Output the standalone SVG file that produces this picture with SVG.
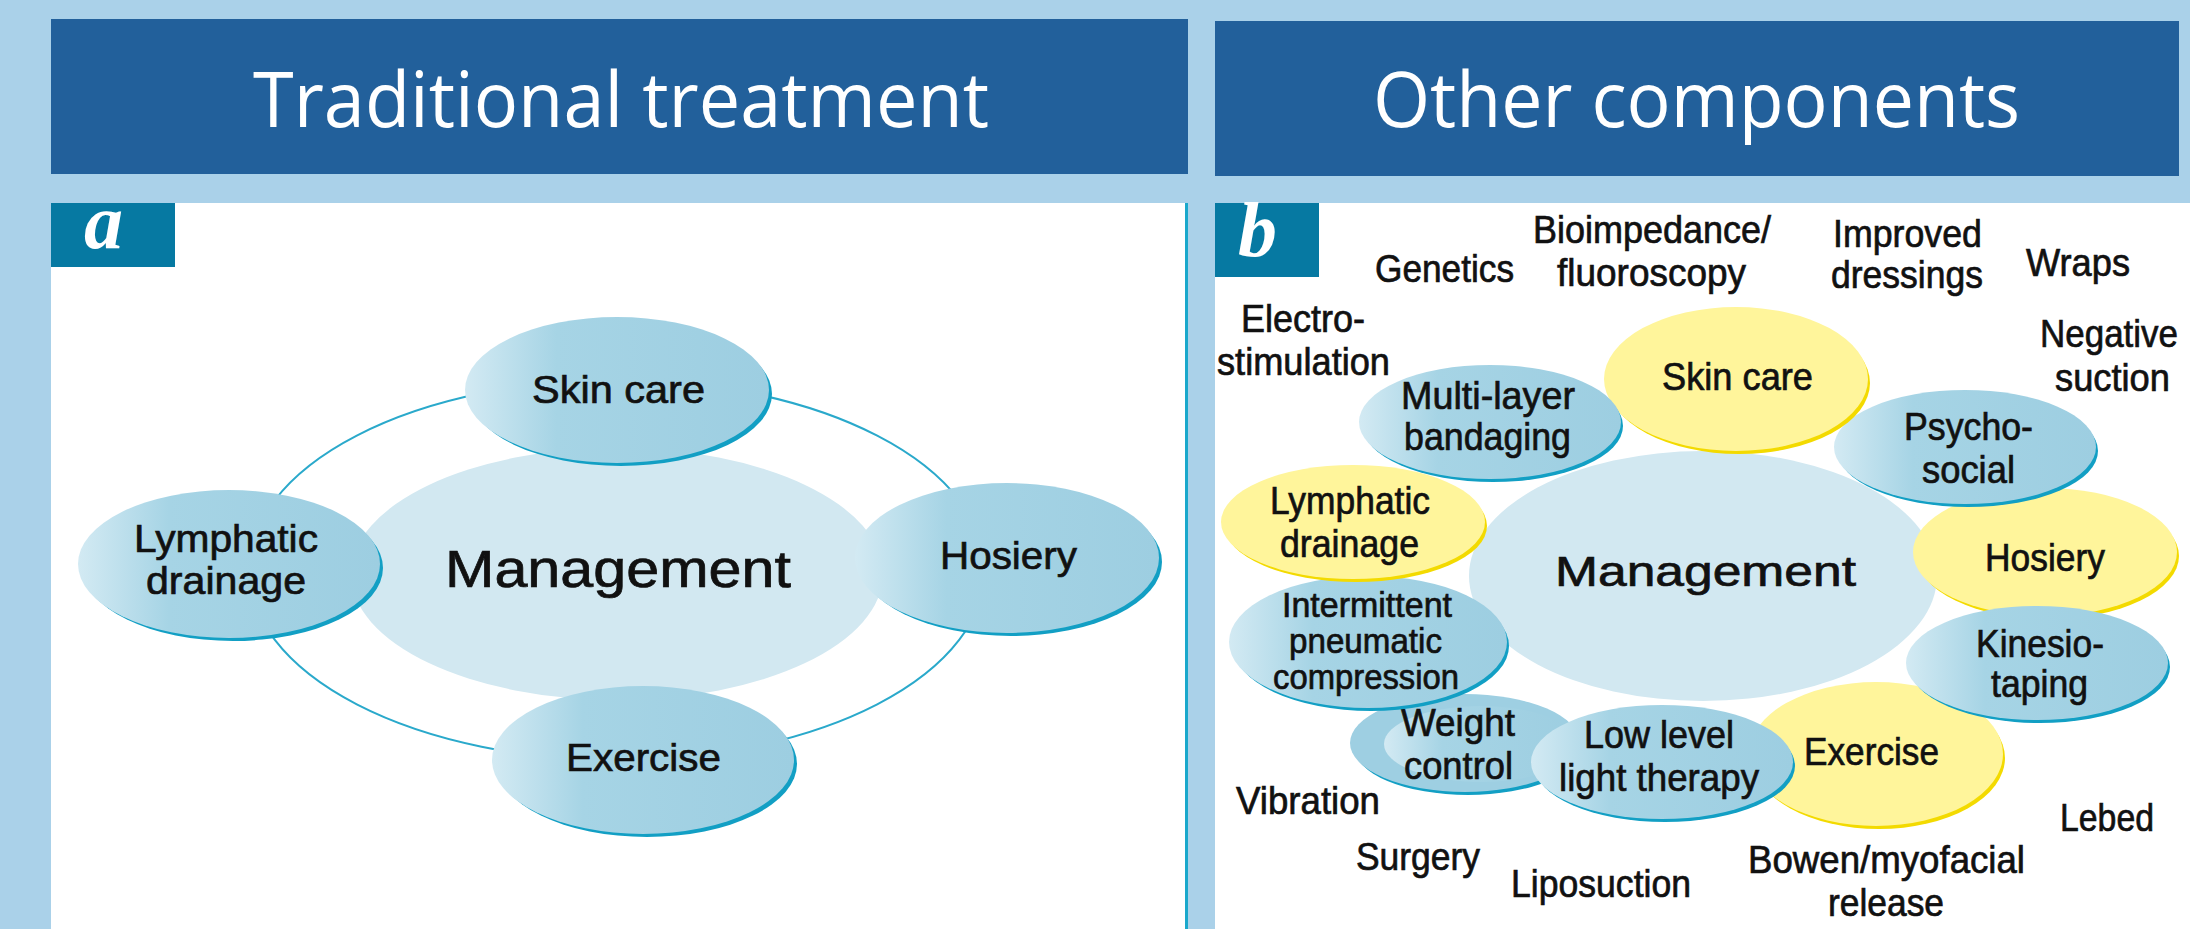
<svg xmlns="http://www.w3.org/2000/svg" width="2190" height="929" viewBox="0 0 2190 929">
  <defs>
    <linearGradient id="blueFill" x1="0" y1="0" x2="1" y2="0">
      <stop offset="0" stop-color="#d3eaf3"/>
      <stop offset="0.3" stop-color="#a6d4e5"/>
      <stop offset="1" stop-color="#9dcee1"/>
    </linearGradient>
    <style>
      .header { fill: #22609b; }
      .title { font-family: "Open Sans", "Liberation Sans", sans-serif; font-size: 77px; fill: #ffffff; }
      .tag { fill: #0679a2; }
      .tagText { font-family: "Liberation Serif", serif; font-style: italic; font-weight: bold; font-size: 78px; fill: #ffffff; }
      .panel { fill: #ffffff; }
      .ring { fill: none; stroke: #2aa9cb; stroke-width: 2; }
      .hub { fill: #d2e8f1; }
      .blue { fill: url(#blueFill); }
      .blueEdge { fill: #129fc4; }
      .blueSolid { fill: #9ecfe2; }
      .yellow { fill: #fff59b; }
      .yellowEdge { fill: #f3da00; }
      .lbl, .lblS, .hubA, .hubB { font-family: "Liberation Sans", Arial, sans-serif; fill: #111111; stroke: #111111; stroke-width: 0.7px; }
      .lbl { font-size: 39px; }
      .lblS { font-size: 35px; }
      .hubA { font-size: 51px; }
      .hubB { font-size: 43px; }
    </style>
  </defs>

  <!-- page background -->
  <rect x="0" y="0" width="2190" height="929" fill="#aad1e9"/>

  <!-- column headers -->
  <g id="header-traditional">
    <rect class="header" x="51" y="19" width="1137" height="155"/>
    <text class="title" x="253" y="127" textLength="736" lengthAdjust="spacingAndGlyphs">Traditional treatment</text>
  </g>
  <g id="header-other">
    <rect class="header" x="1215" y="21" width="964" height="155"/>
    <text class="title" x="1373" y="127" textLength="647" lengthAdjust="spacingAndGlyphs">Other components</text>
  </g>

  <!-- panel a -->
  <g id="panel-a">
    <rect class="panel" x="51" y="203" width="1134" height="726"/>
    <rect x="1185" y="203" width="3" height="726" fill="#1aa8cc"/>
    <rect class="tag" x="51" y="203" width="124" height="64"/>
    <text class="tagText" x="84" y="248">a</text>
  </g>

  <g id="a-connectors">
    <ellipse class="ring" cx="617" cy="570" rx="368" ry="190"/>
  </g>

  <g id="a-management">
    <ellipse class="hub" cx="617" cy="574" rx="266" ry="126"/>
    <text class="hubA" x="445" y="587" textLength="346" lengthAdjust="spacingAndGlyphs">Management</text>
  </g>
  <g id="a-skin-care">
    <ellipse class="blueEdge" cx="621" cy="394" rx="151" ry="72"/>
    <ellipse class="blue" cx="617" cy="390" rx="152" ry="73"/>
    <text class="lbl" x="532" y="403" textLength="173" lengthAdjust="spacingAndGlyphs">Skin care</text>
  </g>
  <g id="a-lymphatic-drainage">
    <ellipse class="blueEdge" cx="233" cy="568" rx="150" ry="73"/>
    <ellipse class="blue" cx="229" cy="564" rx="151" ry="74"/>
    <text class="lbl" x="134" y="552" textLength="184" lengthAdjust="spacingAndGlyphs">Lymphatic</text>
    <text class="lbl" x="146" y="594" textLength="160" lengthAdjust="spacingAndGlyphs">drainage</text>
  </g>
  <g id="a-hosiery">
    <ellipse class="blueEdge" cx="1011" cy="562" rx="151" ry="74"/>
    <ellipse class="blue" cx="1007" cy="558" rx="152" ry="75"/>
    <text class="lbl" x="940" y="569" textLength="137" lengthAdjust="spacingAndGlyphs">Hosiery</text>
  </g>
  <g id="a-exercise">
    <ellipse class="blueEdge" cx="647" cy="764" rx="150" ry="73"/>
    <ellipse class="blue" cx="643" cy="760" rx="151" ry="74"/>
    <text class="lbl" x="566" y="771" textLength="155" lengthAdjust="spacingAndGlyphs">Exercise</text>
  </g>

  <!-- panel b -->
  <g id="panel-b">
    <rect class="panel" x="1215" y="203" width="975" height="726"/>
    <rect class="tag" x="1215" y="203" width="104" height="74"/>
    <text class="tagText" x="1238" y="256">b</text>
  </g>

  <g id="b-connectors"/>

  <g id="b-management">
    <ellipse class="hub" cx="1703" cy="576" rx="234" ry="125"/>
    <text class="hubB" x="1555" y="586" textLength="301" lengthAdjust="spacingAndGlyphs">Management</text>
  </g>
  <g id="b-hosiery">
    <ellipse class="yellowEdge" cx="2048" cy="556" rx="131" ry="63"/>
    <ellipse class="yellow" cx="2045" cy="552" rx="132" ry="64"/>
    <text class="lbl" x="1985" y="571" textLength="120" lengthAdjust="spacingAndGlyphs">Hosiery</text>
  </g>
  <g id="b-psychosocial">
    <ellipse class="blueEdge" cx="1968" cy="451" rx="130" ry="56"/>
    <ellipse class="blue" cx="1965" cy="447" rx="131" ry="57"/>
    <text class="lbl" x="1904" y="440" textLength="129" lengthAdjust="spacingAndGlyphs">Psycho-</text>
    <text class="lbl" x="1922" y="483" textLength="93" lengthAdjust="spacingAndGlyphs">social</text>
  </g>
  <g id="b-skin-care">
    <ellipse class="yellowEdge" cx="1739" cy="383" rx="131" ry="71"/>
    <ellipse class="yellow" cx="1736" cy="379" rx="132" ry="72"/>
    <text class="lbl" x="1662" y="390" textLength="151" lengthAdjust="spacingAndGlyphs">Skin care</text>
  </g>
  <g id="b-multilayer-bandaging">
    <ellipse class="blueEdge" cx="1493" cy="426" rx="130" ry="56"/>
    <ellipse class="blue" cx="1490" cy="422" rx="131" ry="57"/>
    <text class="lbl" x="1401" y="409" textLength="174" lengthAdjust="spacingAndGlyphs">Multi-layer</text>
    <text class="lbl" x="1404" y="450" textLength="167" lengthAdjust="spacingAndGlyphs">bandaging</text>
  </g>
  <g id="b-weight-control">
    <ellipse class="blueEdge" cx="1468" cy="747" rx="114" ry="48"/>
    <ellipse class="blueSolid" cx="1465" cy="743" rx="115" ry="49"/>
    <ellipse class="blue" cx="1481" cy="744" rx="97" ry="38"/>
    <text class="lbl" x="1401" y="736" textLength="114" lengthAdjust="spacingAndGlyphs">Weight</text>
    <text class="lbl" x="1404" y="779" textLength="109" lengthAdjust="spacingAndGlyphs">control</text>
  </g>
  <g id="b-intermittent-pneumatic-compression">
    <ellipse class="blueEdge" cx="1371" cy="646" rx="138" ry="65"/>
    <ellipse class="blue" cx="1368" cy="642" rx="139" ry="66"/>
    <text class="lblS" x="1282" y="617" textLength="170" lengthAdjust="spacingAndGlyphs">Intermittent</text>
    <text class="lblS" x="1289" y="653" textLength="153" lengthAdjust="spacingAndGlyphs">pneumatic</text>
    <text class="lblS" x="1273" y="689" textLength="186" lengthAdjust="spacingAndGlyphs">compression</text>
  </g>
  <g id="b-lymphatic-drainage">
    <ellipse class="yellowEdge" cx="1356" cy="526" rx="131" ry="56"/>
    <ellipse class="yellow" cx="1353" cy="522" rx="132" ry="57"/>
    <text class="lbl" x="1270" y="514" textLength="160" lengthAdjust="spacingAndGlyphs">Lymphatic</text>
    <text class="lbl" x="1280" y="557" textLength="139" lengthAdjust="spacingAndGlyphs">drainage</text>
  </g>
  <g id="b-exercise">
    <ellipse class="yellowEdge" cx="1879" cy="758" rx="126" ry="71"/>
    <ellipse class="yellow" cx="1876" cy="754" rx="127" ry="72"/>
    <text class="lbl" x="1804" y="765" textLength="135" lengthAdjust="spacingAndGlyphs">Exercise</text>
  </g>
  <g id="b-kinesiotaping">
    <ellipse class="blueEdge" cx="2040" cy="667" rx="130" ry="56"/>
    <ellipse class="blue" cx="2037" cy="663" rx="131" ry="57"/>
    <text class="lbl" x="1976" y="657" textLength="128" lengthAdjust="spacingAndGlyphs">Kinesio-</text>
    <text class="lbl" x="1991" y="697" textLength="97" lengthAdjust="spacingAndGlyphs">taping</text>
  </g>
  <g id="b-low-level-light-therapy">
    <ellipse class="blueEdge" cx="1665" cy="766" rx="130" ry="56"/>
    <ellipse class="blue" cx="1662" cy="762" rx="131" ry="57"/>
    <text class="lbl" x="1584" y="748" textLength="150" lengthAdjust="spacingAndGlyphs">Low level</text>
    <text class="lbl" x="1559" y="791" textLength="200" lengthAdjust="spacingAndGlyphs">light therapy</text>
  </g>

  <!-- free-standing options around panel b -->
  <g id="b-genetics"><text class="lbl" x="1375" y="282" textLength="139" lengthAdjust="spacingAndGlyphs">Genetics</text></g>
  <g id="b-bioimpedance">
    <text class="lbl" x="1533" y="243" textLength="238" lengthAdjust="spacingAndGlyphs">Bioimpedance/</text>
    <text class="lbl" x="1557" y="286" textLength="189" lengthAdjust="spacingAndGlyphs">fluoroscopy</text>
  </g>
  <g id="b-improved-dressings">
    <text class="lbl" x="1833" y="247" textLength="149" lengthAdjust="spacingAndGlyphs">Improved</text>
    <text class="lbl" x="1831" y="288" textLength="152" lengthAdjust="spacingAndGlyphs">dressings</text>
  </g>
  <g id="b-wraps"><text class="lbl" x="2026" y="276" textLength="104" lengthAdjust="spacingAndGlyphs">Wraps</text></g>
  <g id="b-electrostimulation">
    <text class="lbl" x="1241" y="332" textLength="124" lengthAdjust="spacingAndGlyphs">Electro-</text>
    <text class="lbl" x="1217" y="375" textLength="173" lengthAdjust="spacingAndGlyphs">stimulation</text>
  </g>
  <g id="b-negative-suction">
    <text class="lbl" x="2040" y="347" textLength="138" lengthAdjust="spacingAndGlyphs">Negative</text>
    <text class="lbl" x="2055" y="391" textLength="115" lengthAdjust="spacingAndGlyphs">suction</text>
  </g>
  <g id="b-vibration"><text class="lbl" x="1236" y="814" textLength="144" lengthAdjust="spacingAndGlyphs">Vibration</text></g>
  <g id="b-surgery"><text class="lbl" x="1356" y="870" textLength="124" lengthAdjust="spacingAndGlyphs">Surgery</text></g>
  <g id="b-liposuction"><text class="lbl" x="1511" y="897" textLength="180" lengthAdjust="spacingAndGlyphs">Liposuction</text></g>
  <g id="b-bowen">
    <text class="lbl" x="1748" y="873" textLength="277" lengthAdjust="spacingAndGlyphs">Bowen/myofacial</text>
    <text class="lbl" x="1828" y="916" textLength="116" lengthAdjust="spacingAndGlyphs">release</text>
  </g>
  <g id="b-lebed"><text class="lbl" x="2060" y="831" textLength="94" lengthAdjust="spacingAndGlyphs">Lebed</text></g>
</svg>
